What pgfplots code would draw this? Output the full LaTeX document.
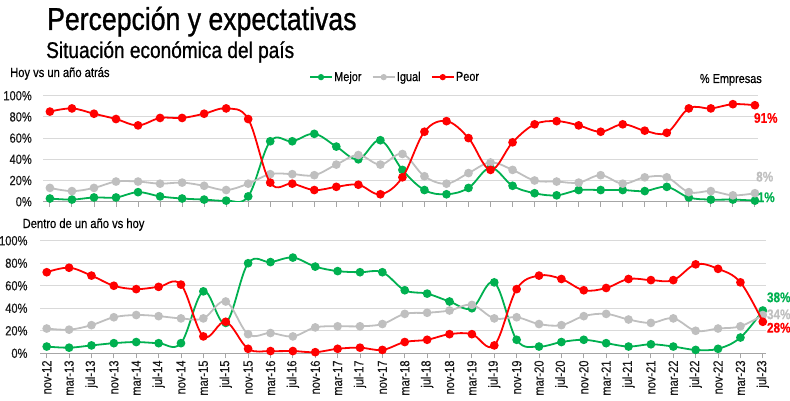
\documentclass[border=0pt]{standalone}
\usepackage{pgfplots}
\pgfplotsset{compat=1.18}
\usepackage{pgfplotstable}
\usepackage{fontspec}
\setmainfont{Liberation Sans}[FakeStretch=0.84, FakeBold=0.4]
\newfontfamily\titlefont{Liberation Sans}[FakeStretch=0.84, FakeBold=0.9]
\definecolor{cmej}{HTML}{00B050}
\definecolor{cigu}{HTML}{BFBFBF}
\definecolor{cpeo}{HTML}{FF0000}
\definecolor{cgrid}{HTML}{D9D9D9}

\pgfplotstableread{
i mejor igual peor
0 3 13 85
1 2 10 88
2 4 13 83
3 4 19 78
4 9 19 72
5 5 17 79
6 3 18 79
7 2 15 83
8 1 11 88
9 5 17 78
10 57 26 18
11 57 26 17
12 64 25 11
13 52 35 14
14 40 44 16
15 58 35 7
16 30 45 23
17 11 24 66
18 7 17 76
19 13 27 60
20 32 37 30
21 15 30 56
22 8 20 73
23 6 19 76
24 11 18 72
25 11 25 66
26 11 17 73
27 10 23 67
28 14 23 65
29 4 9 88
30 2 10 88
31 2 6 92
32 1 8 91
}\hoy

\pgfplotstableread{
i mejor igual peor
0 6 22 72
1 5 21 76
2 7 25 69
3 9 32 60
4 10 34 57
5 9 33 59
6 9 31 61
7 55 31 15
8 27 46 28
9 80 17 4
10 81 18 2
11 85 15 2
12 77 23 1
13 73 24 4
14 72 24 5
15 72 26 3
16 56 35 10
17 53 36 12
18 46 38 17
19 40 43 17
20 63 31 7
21 12 32 57
22 6 26 69
23 10 25 66
24 12 33 56
25 9 35 58
26 6 30 66
27 8 27 65
28 6 31 65
29 3 20 79
30 4 22 75
31 14 24 63
32 38 34 28
}\dentro

\pgfplotsset{
  panel/.style={
    scale only axis,
    clip mode=individual,
    ymin=0, ymax=100,
    ytick={0,20,...,100},
    yticklabel={\pgfmathprintnumber{\tick}\%},
    /pgf/number format/assume math mode=true,
    ymajorgrids,
    grid style={cgrid, line width=1.1pt},
    axis x line*=bottom,
    axis y line*=left,
    y axis line style={draw=none},
    x axis line style={draw=gray!70, line width=0.9pt},
    ytick style={draw=none},
    xtick style={draw=gray!70, line width=0.9pt},
    tick align=outside,
    major tick length=5pt,
    xtick={0,...,32},
    tick label style={font=\fontsize{13.2}{15}\selectfont, text=black!90},
    every axis plot/.append style={line width=1.8pt, smooth, tension=0.6, mark=*, mark size=3.4pt},
  },
}

\begin{document}
\begin{tikzpicture}[x=1pt,y=1pt]

\node[anchor=base west, inner sep=0pt, font=\titlefont\fontsize{31.7}{34}\selectfont] at (47,-30) {Percepción y expectativas};
\node[anchor=base west, inner sep=0pt, font=\titlefont\fontsize{22.7}{25}\selectfont] at (46,-58) {Situación económica del país};
\node[anchor=base west, inner sep=0pt, font=\fontsize{13.3}{15}\selectfont] at (10,-77) {Hoy vs un año atrás};
\node[anchor=base west, inner sep=0pt, font=\fontsize{13.3}{15}\selectfont] at (22.5,-228) {Dentro de un año vs hoy};
\node[anchor=base east, inner sep=0pt, font=\fontsize{13}{15}\selectfont] at (762,-83) {\% Empresas};

% Top panel
\begin{axis}[panel,
  at={(43.3pt,-201.7pt)}, anchor=south west,
  width=714.7pt, height=106pt,
  xmin=-0.3, xmax=32.14,
  xticklabels={},
  yticklabel style={xshift=-3pt},
  legend style={at={(0.492,1.175)}, anchor=center, draw=none, fill=none,
    font=\fontsize{13}{15}\selectfont, column sep=0pt,
    nodes={inner sep=1.5pt},
    /tikz/every even column/.append style={column sep=9pt}},
  legend columns=3,
  legend image code/.code={\draw[#1, line width=1.4pt, mark size=2.4pt, mark repeat=2, mark phase=2] plot coordinates {(0pt,0pt)(11pt,0pt)(22pt,0pt)};},
]
\addplot[cmej, mark options={fill=cmej, draw=cmej}] table[x=i, y=mejor] {\hoy};
\addlegendentry{Mejor}
\addplot[cigu, mark options={fill=cigu, draw=cigu}] table[x=i, y=igual] {\hoy};
\addlegendentry{Igual}
\addplot[cpeo, mark options={fill=cpeo, draw=cpeo}] table[x=i, y=peor] {\hoy};
\addlegendentry{Peor}
\node[anchor=west, inner sep=0pt, text=cpeo, font=\bfseries\fontsize{14}{16}\selectfont] at (axis cs:31.95,79) {91\%};
\node[anchor=west, inner sep=0pt, text=cigu, font=\bfseries\fontsize{14}{16}\selectfont] at (axis cs:32.05,23.6) {8\%};
\node[anchor=west, inner sep=0pt, text=cmej, font=\bfseries\fontsize{14}{16}\selectfont] at (axis cs:32.12,4.2) {1\%};
\end{axis}

% Bottom panel
\begin{axis}[panel,
  at={(40pt,-353.3pt)}, anchor=south west,
  width=725.7pt, height=112.6pt,
  xmin=-0.3, xmax=32.13,
  xticklabels={nov-12,mar-13,jul-13,nov-13,mar-14,jul-14,nov-14,mar-15,jul-15,nov-15,mar-16,jul-16,nov-16,mar-17,jul-17,nov-17,mar-18,jul-18,nov-18,mar-19,jul-19,nov-19,mar-20,jul-20,nov-20,mar-21,jul-21,nov-21,mar-22,jul-22,nov-22,mar-23,jul-23},
  xticklabel style={rotate=90, anchor=east, inner sep=2pt},
  yticklabel style={xshift=-4pt},
]
\addplot[cmej, mark options={fill=cmej, draw=cmej}] table[x=i, y=mejor] {\dentro};
\addplot[cigu, mark options={fill=cigu, draw=cigu}] table[x=i, y=igual] {\dentro};
\addplot[cpeo, mark options={fill=cpeo, draw=cpeo}] table[x=i, y=peor] {\dentro};
\node[anchor=west, inner sep=0pt, text=cmej, font=\bfseries\fontsize{14}{16}\selectfont] at (axis cs:32.18,49.7) {38\%};
\node[anchor=west, inner sep=0pt, text=cigu, font=\bfseries\fontsize{14}{16}\selectfont] at (axis cs:32.18,34.6) {34\%};
\node[anchor=west, inner sep=0pt, text=cpeo, font=\bfseries\fontsize{14}{16}\selectfont] at (axis cs:32.18,22.7) {28\%};
\end{axis}

\pgfresetboundingbox
\useasboundingbox (0pt,0pt) rectangle (790pt,-401pt);
\end{tikzpicture}
\end{document}
